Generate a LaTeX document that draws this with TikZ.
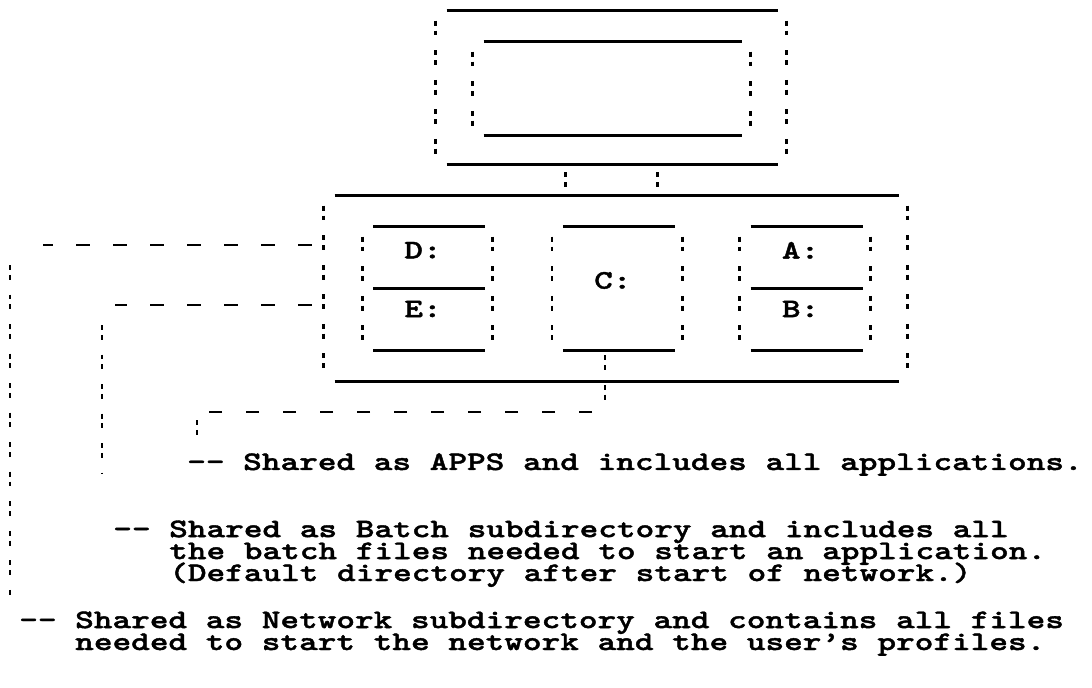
\documentclass[tikz,border=0pt]{standalone}
\usepackage{fontspec}
\usetikzlibrary{positioning, calc}
\newfontfamily\typefont[FakeStretch=1.33, FakeBold=1.5]{lmmonolt10-bold.otf}

\tikzset{
  rule/.style={line width=2pt},
  side/.style={line width=2pt, dash pattern=on 3.5pt off 3.5pt on 3.5pt off 10.5pt},
  hlink/.style={line width=1.8pt, dash pattern=on 9.5pt off 16.8pt},
  vlink/.style={side},
  frame/.style={inner sep=0pt},
  drive/.style={frame, minimum width=2.78cm, minimum height=3.075cm},
  drvlabel/.style={inner sep=0pt, xshift=-0.15cm, font=\typefont\fontsize{19}{15.6}\selectfont},
  note/.style={inner sep=0pt, anchor=base west, align=left,
    font={\typefont\fontsize{19}{15.6}\selectfont\setlength{\lineskiplimit}{-20pt}}}
}

\begin{document}
\begin{tikzpicture}[x=0.025cm, y=-0.025cm]
  \useasboundingbox (0,0) rectangle (1092,688);

  %Define nodes
  \node[frame, minimum width=8.275cm, minimum height=3.825cm] (monout) at (612.5,87.5) {};
  \node[frame, minimum width=6.45cm, minimum height=2.325cm] (monin) at (613,88.5) {};
  \node[frame, minimum width=14.1cm, minimum height=4.625cm] (sysunit) at (617,288.5) {};
  \node[drive] (drvDE) at (429,288.5) {};
  \node[drive, right=1.95cm of drvDE] (drvC) {};
  \node[drive, right=1.9cm of drvC] (drvAB) {};

  \node[drvlabel, below=0.375cm of drvDE.north] (lblD) {D:};
  \node[drvlabel, below=0.3cm of drvDE.center] (lblE) {E:};
  \node[drvlabel, below=1.125cm of drvC.north] (lblC) {C:};
  \node[drvlabel, below=0.375cm of drvAB.north] (lblA) {A:};
  \node[drvlabel, below=0.3cm of drvAB.center] (lblB) {B:};

  % base anchor of a multi-line note is its last line
  \node[note] (apps) at (187,470) {-{}- Shared as APPS and includes all applications.};
  \node[note] (bat) at (113,581) {-{}- Shared as Batch subdirectory and includes all\\
    \hphantom{-{}- }the batch files needed to start an application.\\
    \hphantom{-{}- }(Default directory after start of network.)};
  \node[note] (net) at (19,650) {-{}- Shared as Network subdirectory and contains all files\\
    \hphantom{-{}- }needed to start the network and the user’s profiles.};

  % Frames
  \foreach \b in {monout, monin, sysunit, drvDE, drvC, drvAB} {
    \draw[rule] (\b.north west) -- (\b.north east);
    \draw[rule] (\b.south west) -- (\b.south east);
    \draw[side] ([shift={(-11,10)}]\b.north west) -- ([shift={(-11,-6)}]\b.south west);
    \draw[side] ([shift={(8,10)}]\b.north east) -- ([shift={(8,-6)}]\b.south east);
  }
  \draw[rule] (drvDE.west) -- (drvDE.east);
  \draw[rule] (drvAB.west) -- (drvAB.east);

  % Connect the nodes
  \foreach \dx in {-47,45} {
    \coordinate (tap) at ($(monout.south)+(\dx,8)$);
    \draw[side, shorten >=0.1cm] (tap) -- (tap |- sysunit.north);
  }

  \coordinate (netturn) at (10,245);
  \coordinate (batturn) at (102,305);
  \coordinate (appsturn) at (605,412);
  \coordinate (appsend) at (197,412);

  \draw[hlink, shorten <=0.575cm, shorten >=0.825cm] (sysunit.west |- netturn) -- (netturn);
  \draw[vlink, shorten <=0.5cm, shorten >=0.3cm] (netturn) -- (netturn |- net.north);
  \draw[hlink, shorten <=0.575cm, shorten >=0.325cm] (sysunit.west |- batturn) -- (batturn);
  \draw[vlink, shorten <=0.5cm, shorten >=1.175cm] (batturn) -- (batturn |- bat.north);
  \draw[vlink, shorten <=0.125cm, shorten >=0.125cm] (appsturn |- drvC.south) -- (appsturn);
  \draw[hlink, shorten <=0.325cm, shorten >=0.2cm] (appsturn) -- (appsend);
  \draw[vlink, shorten <=0.2cm, shorten >=0.325cm] (appsend) -- (appsend |- apps.north);

\end{tikzpicture}
\end{document}
